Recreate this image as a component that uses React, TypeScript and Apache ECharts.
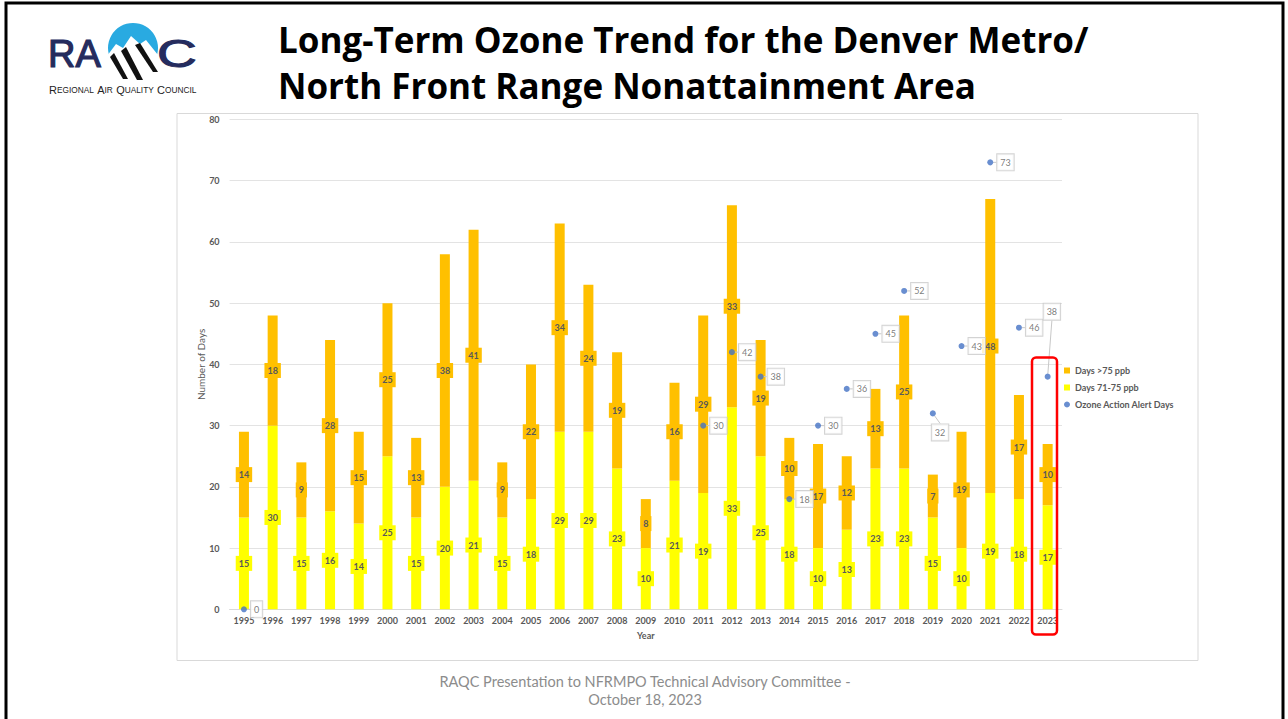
import React, { useEffect, useRef } from 'react';
import * as echarts from 'echarts';

const years = ['1995','1996','1997','1998','1999','2000','2001','2002','2003','2004','2005','2006','2007','2008','2009','2010','2011','2012','2013','2014','2015','2016','2017','2018','2019','2020','2021','2022','2023'];
const days71to75 = [15,30,15,16,14,25,15,20,21,15,18,29,29,23,10,21,19,33,25,18,10,13,23,23,15,10,19,18,17];
const daysOver75 = [14,18,9,28,15,25,13,38,41,9,22,34,24,19,8,16,29,33,19,10,17,12,13,25,7,19,48,17,10];
const alertDays: (number | null)[] = [0,null,null,null,null,null,null,null,null,null,null,null,null,null,null,null,30,42,38,18,30,36,45,52,32,43,73,46,38];
const yMin = 0;
const yMax = 80;
const yStep = 10;

const seriesNames = ['Days >75 ppb', 'Days 71-75 ppb', 'Ozone Action Alert Days'];
const titleLines = ['Long-Term Ozone Trend for the Denver Metro/', 'North Front Range Nonattainment Area'];
const footerLines = ['RAQC Presentation to NFRMPO Technical Advisory Committee -', 'October 18, 2023'];

const YELLOW = '#FFFF00';
const ORANGE = '#FFC000';
const BLUE = '#4472C4';
const LABEL = '#595959';

export default function App() {
  const ref = useRef<HTMLDivElement>(null);
  useEffect(() => {
    if (!ref.current) return;
    const chart = echarts.init(ref.current, null, { renderer: 'svg' });
    const barLabel = (bg: string) => ({
      show: true,
      position: 'inside',
      color: LABEL,
      fontSize: 9,
      fontWeight: 'bold',
      fontFamily: 'Lato',
      backgroundColor: bg,
      padding: [2, 3],
      lineHeight: 11,
    });
    const labelMoves: Record<number, { dx: number; dy: number }> = {
      24: { dx: -8, dy: 19 },
      28: { dx: -11, dy: -65 },
    };
    const option: any = {
      animation: false,
      textStyle: { fontFamily: 'Lato' },
      grid: { left: 229.6, right: 226, top: 119.5, bottom: 109.7 },
      legend: {
        orient: 'vertical',
        left: 1059,
        top: 361,
        itemWidth: 6,
        itemHeight: 6,
        itemGap: 8,
        textStyle: { fontSize: 9, fontWeight: 'bold', color: LABEL, fontFamily: 'Lato' },
        data: [
          { name: seriesNames[0], icon: 'rect' },
          { name: seriesNames[1], icon: 'rect' },
          { name: seriesNames[2], icon: 'circle' },
        ],
      },
      xAxis: {
        type: 'category',
        data: years,
        axisTick: { show: false },
        axisLine: { lineStyle: { color: '#d9d9d9' } },
        axisLabel: { color: LABEL, fontSize: 9, fontWeight: 'bold', margin: 7, interval: 0 },
        name: 'Year',
        nameLocation: 'middle',
        nameGap: 22,
        nameMoveOverlap: false,
        nameTextStyle: { color: LABEL, fontSize: 9, fontWeight: 'bold' },
      },
      yAxis: {
        type: 'value',
        min: yMin,
        max: yMax,
        interval: yStep,
        axisLine: { show: false },
        axisTick: { show: false },
        splitLine: { lineStyle: { color: '#e3e3e3' } },
        axisLabel: { color: LABEL, fontSize: 9, fontWeight: 'bold', margin: 10 },
        name: 'Number of Days',
        nameLocation: 'middle',
        nameGap: 24,
        nameMoveOverlap: false,
        nameTextStyle: { color: LABEL, fontSize: 10 },
      },
      series: [
        {
          name: seriesNames[1],
          type: 'bar',
          stack: 'days',
          barWidth: 10,
          itemStyle: { color: YELLOW },
          label: barLabel(YELLOW),
          data: days71to75,
          z: 2,
        },
        {
          name: seriesNames[0],
          type: 'bar',
          stack: 'days',
          barWidth: 10,
          itemStyle: { color: ORANGE },
          label: barLabel(ORANGE),
          data: daysOver75,
          z: 2,
        },
        {
          name: seriesNames[2],
          type: 'scatter',
          symbol: 'circle',
          symbolSize: 6,
          itemStyle: { color: BLUE },
          z: 5,
          data: alertDays.map((v) => (v === null ? '-' : v)),
          label: {
            show: true,
            position: 'right',
            distance: 4,
            color: LABEL,
            fontSize: 9,
            fontFamily: 'Lato',
            backgroundColor: '#ffffff',
            borderColor: '#c8c8c8',
            borderWidth: 1,
            padding: [2, 3],
            lineHeight: 12,
          },
          labelLine: { show: true, lineStyle: { color: '#c8c8c8', width: 1 } },
          labelLayout: (p: any) => labelMoves[p.dataIndex] || {},
        },
      ],
      graphic: [
        {
          type: 'rect',
          silent: true,
          shape: { x: 6, y: 3, width: 1277, height: 730 },
          style: { fill: 'none', stroke: '#000000', lineWidth: 3 },
          z: 10,
        },
        {
          type: 'rect',
          silent: true,
          shape: { x: 177, y: 113.5, width: 1021, height: 547 },
          style: { fill: 'none', stroke: '#d9d9d9', lineWidth: 1 },
        },
        {
          type: 'rect',
          silent: true,
          shape: { x: 1032, y: 357.5, width: 25, height: 277, r: 4 },
          style: { fill: 'none', stroke: '#ff0000', lineWidth: 2.5 },
          z: 20,
        },
        {
          type: 'text',
          x: 278,
          y: 39,
          style: { text: titleLines[0], fill: '#000000', fontSize: 35, fontWeight: 'bold', fontFamily: 'Open Sans', align: 'left', verticalAlign: 'middle' },
        },
        {
          type: 'text',
          x: 278,
          y: 85,
          style: { text: titleLines[1], fill: '#000000', fontSize: 35, fontWeight: 'bold', fontFamily: 'Open Sans', align: 'left', verticalAlign: 'middle' },
        },
        {
          type: 'text',
          x: 645,
          y: 681,
          style: { text: footerLines[0], fill: '#8c8c8c', fontSize: 14.5, fontFamily: 'Lato', align: 'center', verticalAlign: 'middle' },
        },
        {
          type: 'text',
          x: 645,
          y: 699,
          style: { text: footerLines[1], fill: '#8c8c8c', fontSize: 14.5, fontFamily: 'Lato', align: 'center', verticalAlign: 'middle' },
        },
        {
          type: 'group',
          children: [
            { type: 'circle', shape: { cx: 133, cy: 48, r: 25 }, style: { fill: '#29aae1' } },
            {
              type: 'polygon',
              shape: { points: [[104, 60], [116, 44], [123, 48], [131, 36], [140, 44], [146, 40], [162, 60], [162, 82], [104, 82]] },
              style: { fill: '#ffffff' },
            },
            { type: 'polygon', shape: { points: [[110, 57], [114, 53], [128, 79], [123, 79]] }, style: { fill: '#111111' } },
            { type: 'polygon', shape: { points: [[121, 51], [126, 47], [143, 80], [137, 80]] }, style: { fill: '#111111' } },
            { type: 'polygon', shape: { points: [[135, 45], [140, 43], [158, 72], [153, 72]] }, style: { fill: '#111111' } },
            {
              type: 'text',
              x: 48,
              y: 54,
              style: { text: 'RA', fill: '#252c5e', stroke: '#252c5e', lineWidth: 1.2, fontSize: 38, fontFamily: 'Liberation Sans', align: 'left', verticalAlign: 'middle' },
            },
            {
              type: 'text',
              x: 157,
              y: 54,
              scaleX: 1.45,
              style: { text: 'C', fill: '#252c5e', stroke: '#252c5e', lineWidth: 1, fontSize: 38, fontFamily: 'Liberation Sans', align: 'left', verticalAlign: 'middle' },
            },
            {
              type: 'text',
              x: 49,
              y: 90,
              style: {
                text: '{b|R}{s|EGIONAL} {b|A}{s|IR} {b|Q}{s|UALITY} {b|C}{s|OUNCIL}',
                align: 'left',
                verticalAlign: 'middle',
                fill: '#222222',
                rich: {
                  b: { fontSize: 11, fontFamily: 'Liberation Sans', fill: '#222222', color: '#222222' },
                  s: { fontSize: 8.3, fontFamily: 'Liberation Sans', fill: '#222222', color: '#222222' },
                },
              },
            },
          ],
        },
      ],
    };
    chart.setOption(option);
    return () => chart.dispose();
  }, []);
  return (
    <div
      ref={ref}
      style={{ position: 'absolute', left: 0, top: 0, width: 1288, height: 719, background: '#ffffff' }}
    />
  );
}
